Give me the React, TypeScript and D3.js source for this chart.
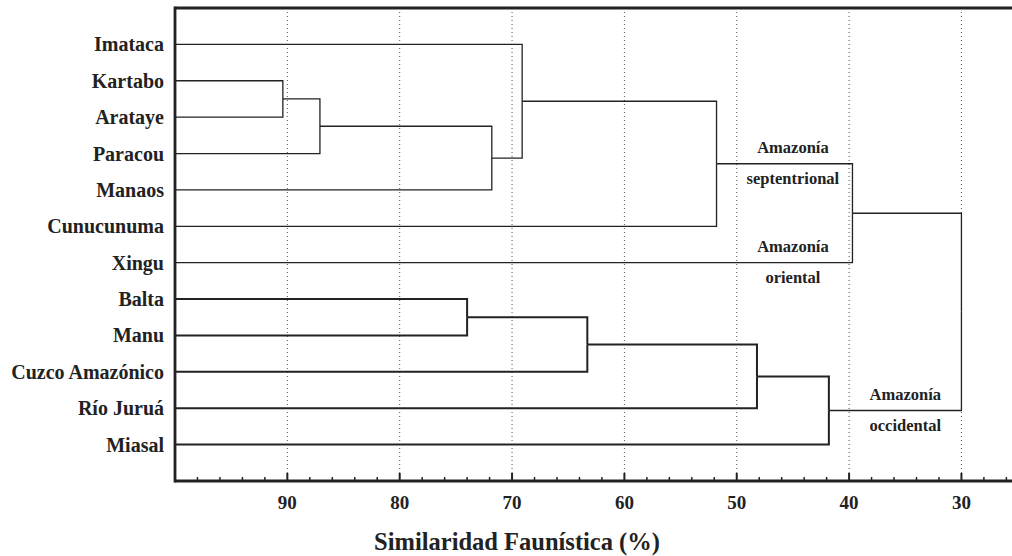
import React from 'react';
import * as d3 from 'd3';

// sites in display order (leaves 0..11)
const sites = [
  'Imataca', 'Kartabo', 'Arataye', 'Paracou', 'Manaos', 'Cunucunuma',
  'Xingu', 'Balta', 'Manu', 'Cuzco Amazónico', 'Río Juruá', 'Miasal',
];

// linkage: new node id = 12 + index
const mergeLeft = [1, 12, 13, 0, 15, 16, 7, 18, 19, 20, 17];
const mergeRight = [2, 3, 4, 14, 5, 6, 8, 9, 10, 11, 21];
const mergeHeight = [90.4, 87.1, 71.8, 69.1, 51.8, 39.7, 74.0, 63.3, 48.2, 41.8, 30.0];

const xTicks = [90, 80, 70, 60, 50, 40, 30];

const groupTop = ['Amazonía', 'Amazonía', 'Amazonía'];
const groupBottom = ['septentrional', 'oriental', 'occidental'];
const groupNode = [16, 6, 21];
const groupAt = [45, 45, 35];

const W = 1012;
const H = 556;
const left = 175;
const top = 8;
const bottom = 481;

const txt = { fontFamily: "'Liberation Serif'", fontWeight: 'bold' as const };

const App = () => {
  const x = d3.scaleLinear().domain([100, 25.5]).range([left, W]);
  const y = d3.scalePoint<number>().domain(d3.range(sites.length)).range([top, bottom]).padding(1);

  // y position of each node (leaves, then merges at midpoints)
  const nodeY: number[] = sites.map((_, i) => y(i) as number);
  const nodeX: number[] = sites.map(() => x(100));
  mergeLeft.forEach((a, i) => {
    const b = mergeRight[i];
    nodeY.push((nodeY[a] + nodeY[b]) / 2);
    nodeX.push(x(mergeHeight[i]));
  });

  // nodes under the western cluster get heavier strokes
  const heavy = new Set<number>();
  const mark = (id: number) => {
    heavy.add(id);
    if (id >= sites.length) {
      mark(mergeLeft[id - sites.length]);
      mark(mergeRight[id - sites.length]);
    }
  };
  mark(21);

  const links = mergeLeft.flatMap((a, i) => {
    const b = mergeRight[i];
    const id = sites.length + i;
    const mx = x(mergeHeight[i]);
    return [a, b].map((c) => {
      const p = d3.path();
      p.moveTo(nodeX[c], nodeY[c]);
      p.lineTo(mx, nodeY[c]);
      p.lineTo(mx, nodeY[id]);
      return { d: p.toString(), heavy: heavy.has(c) && heavy.has(id), key: `${id}-${c}` };
    });
  });

  const minor = d3.range(98, 25, -2).filter((v) => v % 10 !== 0);

  return (
    <svg width={W} height={H} style={{ position: 'absolute', left: 0, top: 0, display: 'block' }}>
      <rect width={W} height={H} fill="#fff" />
      {xTicks.map((t) => (
        <line key={t} x1={x(t)} x2={x(t)} y1={top} y2={bottom} stroke="#555" strokeWidth={1} strokeDasharray="1,3" />
      ))}
      {links.map((l) => (
        <path key={l.key} d={l.d} fill="none" stroke="#222" strokeWidth={l.heavy ? 2 : 1.3} />
      ))}
      {/* frame */}
      <line x1={left} x2={W} y1={top} y2={top} stroke="#222" strokeWidth={2.8} />
      <line x1={left} x2={W} y1={bottom} y2={bottom} stroke="#222" strokeWidth={2.8} />
      <line x1={left} x2={left} y1={top - 1.4} y2={bottom + 1.4} stroke="#222" strokeWidth={2.8} />
      {xTicks.map((t) => (
        <line key={`t${t}`} x1={x(t)} x2={x(t)} y1={bottom} y2={bottom - 8} stroke="#222" strokeWidth={2} />
      ))}
      {minor.map((t) => (
        <line key={`m${t}`} x1={x(t)} x2={x(t)} y1={bottom} y2={bottom - 4} stroke="#222" strokeWidth={1.5} />
      ))}
      {xTicks.map((t) => (
        <text key={`l${t}`} x={x(t)} y={509} textAnchor="middle" fontSize={19} fill="#222" style={txt}>
          {t}
        </text>
      ))}
      {sites.map((s, i) => (
        <text key={s} x={164} y={nodeY[i]} dy="0.35em" textAnchor="end" fontSize={20} fill="#222" style={txt}>
          {s}
        </text>
      ))}
      {groupTop.map((g, i) => (
        <g key={groupBottom[i]} fontSize={16.5} fill="#222" textAnchor="middle">
          <text x={x(groupAt[i])} y={nodeY[groupNode[i]] - 11} style={txt}>{g}</text>
          <text x={x(groupAt[i])} y={nodeY[groupNode[i]] + 20} style={txt}>{groupBottom[i]}</text>
        </g>
      ))}
      <text x={517} y={550} textAnchor="middle" fontSize={24.5} fill="#222" style={txt}>
        Similaridad Faunística (%)
      </text>
    </svg>
  );
};

export default App;
